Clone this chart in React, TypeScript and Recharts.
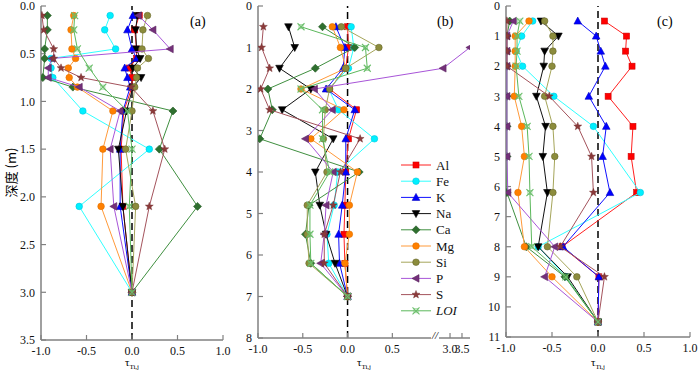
import React from 'react';
import { ScatterChart, Scatter, XAxis, YAxis, ReferenceLine } from 'recharts';

// depth (m) of samples in each profile
const depthsA = [0.1, 0.25, 0.45, 0.55, 0.65, 0.75, 0.85, 1.1, 1.5, 2.1, 3.0];
const depthsB = [0.5, 1, 1.5, 2, 2.5, 3.2, 4, 4.8, 5.5, 6.2, 7];
const depthsC = [0.5, 1, 1.5, 2, 3, 4, 5, 6.2, 8, 9, 10.5];

// tau values, profile (a)
const aAl = [0.08, 0.03, 0.05, 0.05, -0.03, 0, 0, -0.09, -0.12, -0.1, 0];
const aFe = [-0.24, -0.3, -0.18, -0.89, -0.89, -0.87, null, -0.54, 0.19, -0.58, 0];
const aK = [0.01, -0.05, 0, 0.05, -0.08, -0.05, -0.02, -0.1, -0.13, -0.13, 0];
const aNa = [0.06, 0.04, 0.05, 0.09, 0.01, 0.1, 0.01, -0.06, -0.15, -0.1, 0];
const aCa = [-0.93, -0.93, -0.96, -0.96, null, -0.98, -0.65, 0.45, 0.3, 0.72, 0];
const aMg = [-0.64, -0.67, -0.66, -0.62, -0.7, -0.69, -0.6, -0.21, -0.32, -0.34, 0];
const aSi = [0.17, 0.12, 0.11, 0.18, 0.06, 0.05, 0.03, 0, -0.07, 0.04, 0];
const aP = [0.07, 0.23, 0.42, -0.88, -0.92, -0.92, -0.58, -0.13, -0.24, -0.2, 0];
const aS = [-0.99, -0.97, -0.86, -0.86, -0.78, -0.56, -0.01, 0.23, 0.36, 0.19, 0];
const aLOI = [-0.63, -0.64, -0.6, null, -0.47, null, -0.32, -0.05, 0, -0.03, 0];

// profile (b)
const bAl = [0, 0.01, -0.02, -0.2, 0.1, 0.01, -0.02, -0.03, -0.04, -0.03, 0];
const bFe = [0.04, 0.07, 0.01, -0.21, -0.1, 0.3, -0.11, -0.15, -0.23, -0.21, 0];
const bK = [-0.13, -0.03, -0.05, -0.24, 0.08, -0.02, -0.02, -0.06, -0.1, -0.09, 0];
const bNa = [-0.66, -0.59, -0.76, -0.41, -0.73, -0.16, -0.36, -0.31, -0.24, -0.14, 0];
const bCa = [-0.28, 0.08, -0.36, -0.89, -0.84, -0.98, 0.13, -0.43, -0.47, -0.41, 0];
const bMg = [-0.17, -0.08, -0.02, -0.52, -0.04, -0.41, 0.11, 0.02, 0.02, -0.03, 0];
const bSi = [-0.07, 0.35, -0.02, -0.2, -0.25, -0.27, -0.23, -0.45, -0.45, -0.43, 0];
const bP = [null, 3.83, 2.71, -0.37, -0.17, -0.47, -0.16, -0.24, -0.26, -0.3, 0];
const bS = [-0.94, -0.96, -0.87, -0.97, -0.87, 0.14, -0.08, -0.16, -0.26, -0.26, 0];
const bLOI = [-0.52, 0.2, 0.22, -0.52, -0.28, -0.28, -0.2, -0.42, -0.42, -0.41, 0];

// profile (c)
const cAl = [0.07, 0.31, 0.3, 0.37, 0.11, 0.38, 0.36, 0.42, -0.39, 0.01, 0];
const cFe = [-0.71, -0.83, -0.89, -0.82, -0.48, -0.05, null, 0.46, -0.65, -0.35, 0];
const cK = [-0.22, -0.02, 0.03, 0.08, -0.1, 0.09, 0.05, 0.13, -0.38, 0.01, 0];
const cNa = [-0.62, -0.43, -0.58, -0.59, -0.67, -0.57, -0.6, -0.55, -0.65, -0.33, 0];
const cCa = [-0.96, -0.99, -0.99, -0.99, -0.99, -0.99, -0.99, -0.99, -0.78, -0.36, 0];
const cMg = [-0.75, -0.9, -0.9, -0.9, -0.91, -0.83, -0.8, -0.87, -0.8, -0.5, 0];
const cSi = [-0.58, -0.49, -0.49, -0.5, -0.58, -0.49, -0.47, -0.49, -0.55, -0.23, 0];
const cP = [-0.92, -0.99, -0.99, -0.99, -0.99, -0.99, -0.99, -0.98, -0.47, -0.58, 0];
const cS = [-0.99, -0.99, -0.99, -0.99, -0.53, -0.22, -0.07, -0.05, -0.41, 0.07, 0];
const cLOI = [-0.85, -0.88, -0.88, -0.89, -0.86, -0.77, -0.75, -0.74, -0.72, -0.35, 0];

const tauTicks = [-1, -0.5, 0, 0.5, 1];
const tauTicksB = [-1, -0.5, 0, 0.5, 3, 3.5];
const yTicksA = [0, 0.5, 1, 1.5, 2, 2.5, 3, 3.5];
const yTicksB = [0, 1, 2, 3, 4, 5, 6, 7, 8];
const yTicksC = [0, 1, 2, 3, 4, 5, 6, 7, 8, 9, 10, 11];

const STYLES = [
  { name: 'Al', line: '#ff2020', fill: '#ff0000', stroke: '#d00000', kind: 'square' },
  { name: 'Fe', line: '#30ffff', fill: '#00f0ff', stroke: '#00c8e0', kind: 'circle' },
  { name: 'K', line: '#1010ff', fill: '#0000ff', stroke: '#0000c0', kind: 'triUp' },
  { name: 'Na', line: '#111111', fill: '#000000', stroke: '#000000', kind: 'triDown' },
  { name: 'Ca', line: '#3f8f3f', fill: '#2f6f2f', stroke: '#245a24', kind: 'diamond' },
  { name: 'Mg', line: '#ff9a3a', fill: '#ff8000', stroke: '#e07000', kind: 'circle' },
  { name: 'Si', line: '#a5a55a', fill: '#8c8c3c', stroke: '#66662a', kind: 'circle' },
  { name: 'P', line: '#a855d8', fill: '#74307a', stroke: '#5a2560', kind: 'triLeft' },
  { name: 'S', line: '#a4535c', fill: '#8b3a3a', stroke: '#6e2a2a', kind: 'star' },
  { name: 'LOI', line: '#5cb85c', fill: '#9ad49a', stroke: '#6cbf6c', kind: 'x' },
];

const FRAME = '#808080';
const FONT = '"Liberation Serif", "Times New Roman", Times, "DejaVu Serif", serif';

// panel (b) has a broken tau axis between 1 and 3
const breakX = (v: number) => (v <= 1.05 ? v : 1.144 + (v - 3) * 0.267);

function Marker(props: any) {
  const { cx, cy, kind, fill, stroke } = props;
  if (cx == null || cy == null) return null;
  const sw = 0.6;
  if (kind === 'square') return <rect x={cx - 3} y={cy - 3} width={6} height={6} fill={fill} stroke={stroke} strokeWidth={sw} />;
  if (kind === 'circle') return <circle cx={cx} cy={cy} r={3.3} fill={fill} stroke={stroke} strokeWidth={sw} />;
  if (kind === 'triUp') return <polygon points={`${cx},${cy - 4} ${cx - 3.8},${cy + 3} ${cx + 3.8},${cy + 3}`} fill={fill} stroke={stroke} strokeWidth={sw} />;
  if (kind === 'triDown') return <polygon points={`${cx},${cy + 4} ${cx - 3.8},${cy - 3} ${cx + 3.8},${cy - 3}`} fill={fill} stroke={stroke} strokeWidth={sw} />;
  if (kind === 'triLeft') return <polygon points={`${cx - 4},${cy} ${cx + 3},${cy - 3.8} ${cx + 3},${cy + 3.8}`} fill={fill} stroke={stroke} strokeWidth={sw} />;
  if (kind === 'diamond') return <polygon points={`${cx},${cy - 4} ${cx + 4},${cy} ${cx},${cy + 4} ${cx - 4},${cy}`} fill={fill} stroke={stroke} strokeWidth={sw} />;
  if (kind === 'star') {
    const pts: string[] = [];
    for (let i = 0; i < 10; i++) {
      const r = i % 2 === 0 ? 4.2 : 1.8;
      const a = -Math.PI / 2 + (i * Math.PI) / 5;
      pts.push(`${cx + r * Math.cos(a)},${cy + r * Math.sin(a)}`);
    }
    return <polygon points={pts.join(' ')} fill={fill} stroke={stroke} strokeWidth={0.4} />;
  }
  return (
    <g stroke={stroke} strokeWidth={1.1}>
      <line x1={cx - 3.5} y1={cy - 3.5} x2={cx + 3.5} y2={cy + 3.5} />
      <line x1={cx - 3.5} y1={cy + 3.5} x2={cx + 3.5} y2={cy - 3.5} />
      <rect x={cx - 2} y={cy - 2} width={4} height={4} fill="none" strokeWidth={0.6} />
    </g>
  );
}

function toPoints(depths: number[], vals: (number | null)[], mapX = (v: number) => v) {
  const pts: { x: number; y: number }[] = [];
  depths.forEach((d, i) => {
    const v = vals[i];
    if (v != null) pts.push({ x: mapX(v), y: d });
  });
  return pts;
}

const tickStyle = { fontSize: 12, fill: '#111', fontFamily: FONT, style: { fontFamily: FONT } };

function Panel(props: any) {
  const { left, width, margin, yWidth, series, xDomain, xTicks, xFmt, yDomain, yTicks, yFmt } = props;
  return (
    <div style={{ position: 'absolute', left, top: 0 }}>
      <ScatterChart width={width} height={370} margin={margin} style={{ overflow: 'visible', fontFamily: FONT }}>
        <XAxis
          type="number"
          dataKey="x"
          domain={xDomain}
          ticks={xTicks}
          tickFormatter={xFmt}
          interval={0}
          allowDataOverflow
          height={20}
          tickSize={-5}
          tickMargin={11}
          tick={tickStyle}
          axisLine={{ stroke: FRAME, strokeWidth: 1.5 }}
          tickLine={{ stroke: FRAME, strokeWidth: 1.2 }}
        />
        <XAxis xAxisId="top" orientation="top" type="number" domain={xDomain} height={0} tick={false} tickLine={false} axisLine={{ stroke: FRAME, strokeWidth: 1.5 }} />
        <YAxis
          type="number"
          dataKey="y"
          reversed
          domain={yDomain}
          ticks={yTicks}
          tickFormatter={yFmt}
          interval={0}
          width={yWidth}
          tickSize={-5}
          tickMargin={11}
          tick={tickStyle}
          axisLine={{ stroke: FRAME, strokeWidth: 1.5 }}
          tickLine={{ stroke: FRAME, strokeWidth: 1.2 }}
        />
        <YAxis yAxisId="right" orientation="right" type="number" domain={yDomain} width={0} tick={false} tickLine={false} axisLine={{ stroke: FRAME, strokeWidth: 1.5 }} />
        {series.map((s: any) => (
          <Scatter
            key={s.style.name}
            name={s.style.name}
            data={s.data}
            isAnimationActive={false}
            line={{ stroke: s.style.line, strokeWidth: 1 }}
            lineType="joint"
            shape={(p: any) => <Marker cx={p.cx} cy={p.cy} kind={s.style.kind} fill={s.style.fill} stroke={s.style.stroke} />}
          />
        ))}
        <ReferenceLine x={0} stroke="#000" strokeWidth={1.5} strokeDasharray="7 4" />
      </ScatterChart>
    </div>
  );
}

const fmt1 = (v: number) => v.toFixed(1);
const fmtInt = (v: number) => String(v);

function LegendBox() {
  return (
    <svg width={70} height={175} style={{ position: 'absolute', left: 395, top: 155 }}>
      {STYLES.map((s, i) => {
        const y = 10 + i * 16.2;
        return (
          <g key={s.name}>
            <line x1={6} x2={36} y1={y} y2={y} stroke={s.line} strokeWidth={1} />
            <Marker cx={21} cy={y} kind={s.kind} fill={s.fill} stroke={s.stroke} />
            <text x={41} y={y + 4.5} fontSize={13} style={{ fontFamily: FONT }} fontStyle={s.name === 'LOI' ? 'italic' : 'normal'} fill="#111">
              {s.name}
            </text>
          </g>
        );
      })}
    </svg>
  );
}

function TauLabel({ x }: { x: number }) {
  return (
    <div style={{ position: 'absolute', left: x - 20, width: 40, top: 357, textAlign: 'center', fontFamily: FONT, fontSize: 11, lineHeight: '11px' }}>
      τ<sub style={{ fontSize: 7 }}>Ti,j</sub>
    </div>
  );
}

export default function App() {
  const build = (depths: number[], rows: (number | null)[][], mapX?: (v: number) => number) =>
    STYLES.map((style, i) => ({ style, data: toPoints(depths, rows[i], mapX) }));

  const seriesA = build(depthsA, [aAl, aFe, aK, aNa, aCa, aMg, aSi, aP, aS, aLOI]);
  const seriesB = build(depthsB, [bAl, bFe, bK, bNa, bCa, bMg, bSi, bP, bS, bLOI], breakX);
  const seriesC = build(depthsC, [cAl, cFe, cK, cNa, cCa, cMg, cSi, cP, cS, cLOI]);
  const ticksB = tauTicksB.map(breakX);

  return (
    <div style={{ position: 'absolute', left: 0, top: 0, width: 700, height: 370, background: '#fff', fontFamily: FONT, overflow: 'hidden' }}>
      <Panel
        left={0}
        width={232}
        margin={{ top: 6, right: 9, bottom: 10, left: 0 }}
        yWidth={41}
        series={seriesA}
        xDomain={[-1, 1]}
        xTicks={tauTicks}
        xFmt={fmt1}
        yDomain={[0, 3.5]}
        yTicks={yTicksA}
        yFmt={fmt1}
      />
      <Panel
        left={225}
        width={250}
        margin={{ top: 6, right: 5, bottom: 12, left: 0 }}
        yWidth={33}
        series={seriesB}
        xDomain={[-1, 1.367]}
        xTicks={ticksB}
        xFmt={(v: number) => {
          const i = ticksB.findIndex((t) => Math.abs(t - v) < 1e-6);
          return i >= 0 ? tauTicksB[i].toFixed(1) : '';
        }}
        yDomain={[0, 8]}
        yTicks={yTicksB}
        yFmt={fmtInt}
      />
      <Panel
        left={475}
        width={225}
        margin={{ top: 6, right: 10, bottom: 13, left: 0 }}
        yWidth={31}
        series={seriesC}
        xDomain={[-1, 1]}
        xTicks={tauTicks}
        xFmt={fmt1}
        yDomain={[0, 11]}
        yTicks={yTicksC}
        yFmt={fmtInt}
      />
      <LegendBox />
      <div style={{ position: 'absolute', left: 431, top: 329, background: '#fff', fontSize: 11, fontStyle: 'italic', lineHeight: '12px', padding: '0 1px' }}>//</div>
      <div style={{ position: 'absolute', left: 190, top: 14, fontSize: 14 }}>(a)</div>
      <div style={{ position: 'absolute', left: 437, top: 14, fontSize: 14 }}>(b)</div>
      <div style={{ position: 'absolute', left: 657, top: 14, fontSize: 14 }}>(c)</div>
      <div
        style={{
          position: 'absolute',
          left: -22,
          top: 163,
          width: 64,
          textAlign: 'center',
          fontSize: 13,
          transform: 'rotate(-90deg)',
          fontFamily: '"Noto Sans CJK SC", ' + FONT,
        }}
      >
        深度 (m)
      </div>
      <TauLabel x={132} />
      <TauLabel x={364} />
      <TauLabel x={598} />
    </div>
  );
}
